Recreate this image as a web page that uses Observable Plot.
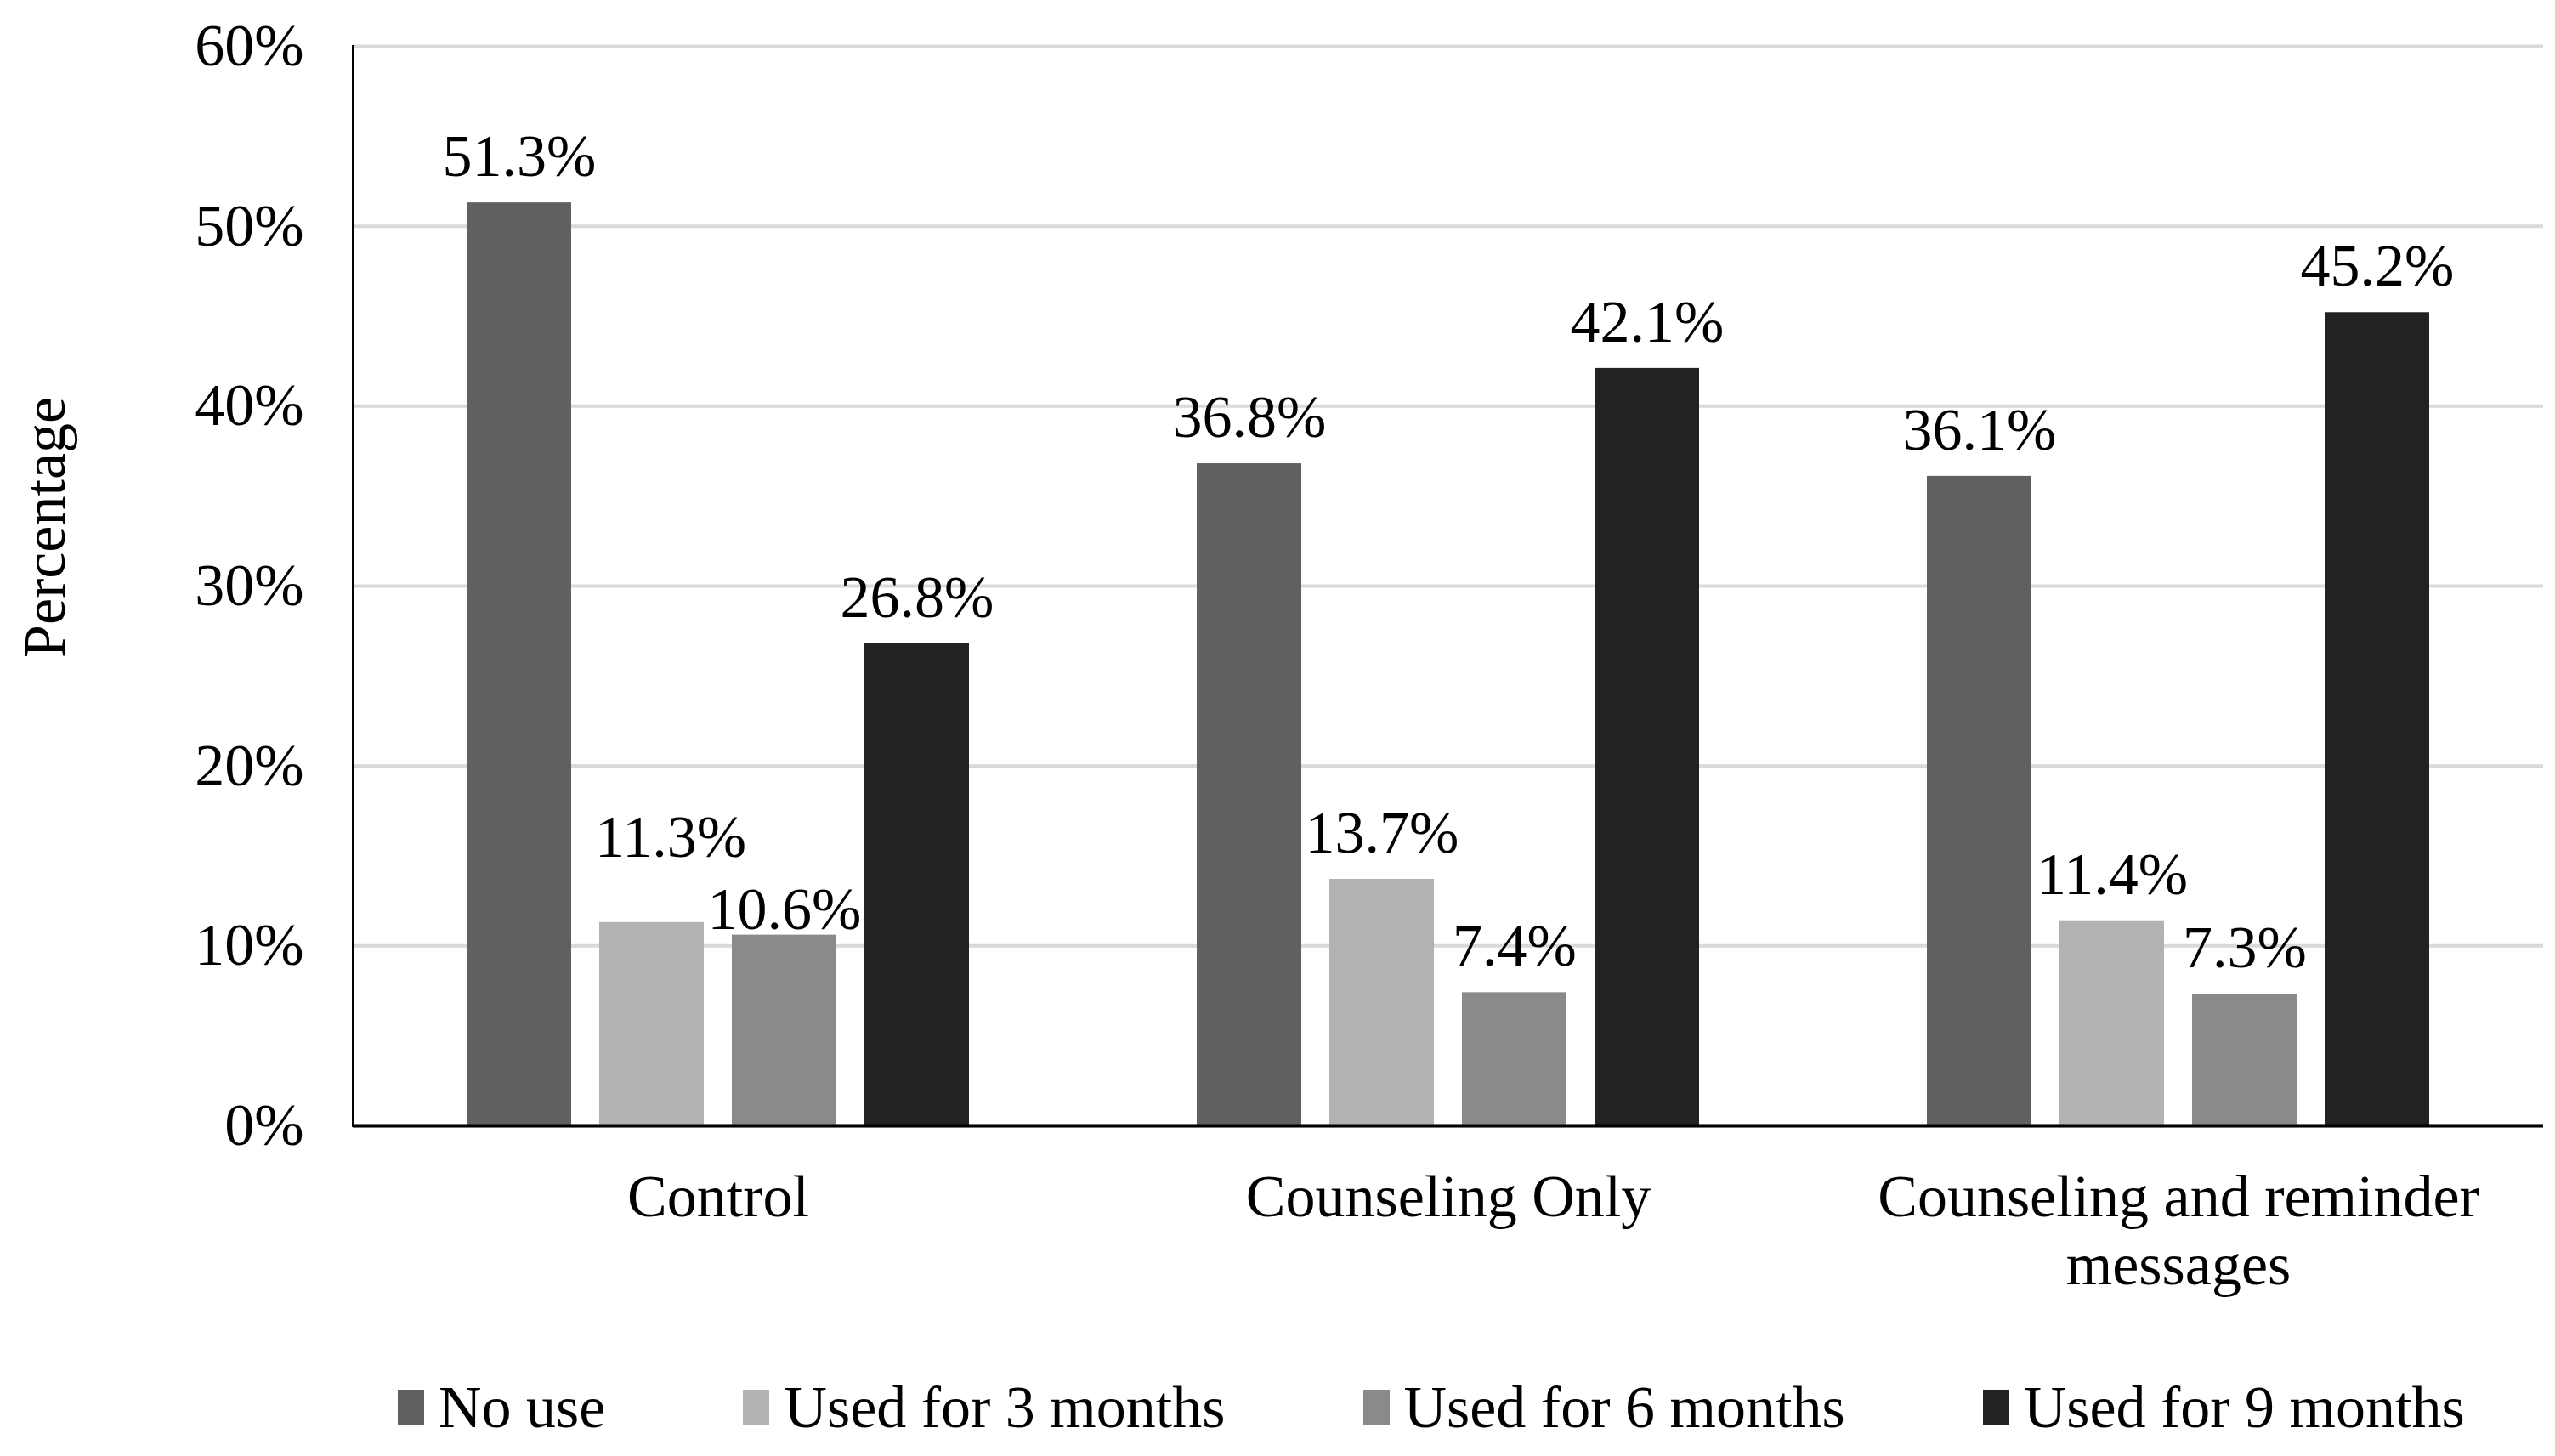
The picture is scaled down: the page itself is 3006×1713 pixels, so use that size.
<!DOCTYPE html>
<html><head><meta charset="utf-8">
<script src="https://cdn.jsdelivr.net/npm/d3@7"></script>
<script src="https://cdn.jsdelivr.net/npm/@observablehq/plot@0.6"></script>
<style>
html,body{margin:0;padding:0;background:#fff;}
#chart{width:3006px;}
.lg-swatches{font-family:"Liberation Serif","Times New Roman",serif !important;font-size:70px !important;color:#000;margin-left:468px !important;margin-top:56px !important;flex-wrap:nowrap !important;}
.lg-swatch{margin-right:162px !important;}
.lg-swatch:last-child{margin-right:0 !important;}
.lg-swatch > svg{margin-right:17px !important;}
</style></head><body><div id="chart"></div>
<script>
const groups = ["Control", "Counseling Only", "Counseling and reminder messages"];
const groupLabels = ["Control", "Counseling Only", "Counseling and reminder\nmessages"];
const series = ["No use", "Used for 3 months", "Used for 6 months", "Used for 9 months"];
const noUse = [51.3, 36.8, 36.1];
const used3 = [11.3, 13.7, 11.4];
const used6 = [10.6, 7.4, 7.3];
const used9 = [26.8, 42.1, 45.2];
const yTicks = [0, 10, 20, 30, 40, 50, 60];
const yTickLabels = ["0%", "10%", "20%", "30%", "40%", "50%", "60%"];
const palette = ["#606060", "#b2b2b2", "#8a8a8a", "#222222"];

const seriesValues = [noUse, used3, used6, used9];
const data = groups.flatMap((g, i) => series.map((s, j) => ({
  group: g, series: s, value: seriesValues[j][i],
  next: seriesValues[j + 1] ? seriesValues[j + 1][i] : null,
  prev: seriesValues[j - 1] ? seriesValues[j - 1][i] : null
})));
// when two neighbouring bars have nearly the same height, the left label is lifted and the right one lowered
const close = (a, b) => b !== null && Math.abs(a - b) < 2;
const lifted = d => close(d.value, d.next);
const lowered = d => close(d.value, d.prev);
const normal = d => !lifted(d) && !lowered(d);

const font = '"Liberation Serif","Times New Roman",serif';
const label = d => d.value.toFixed(1) + "%";
const textOpts = {fx: "group", x: "series", y: "value", text: label, lineAnchor: "middle", fontSize: 70, fill: "#000"};
const plot = Plot.plot({
  width: 3006, height: 1560,
  marginTop: 54, marginBottom: 236, marginLeft: 414, marginRight: 13,
  style: {fontFamily: font, fontSize: "70px", color: "#000", background: "#fff"},
  fx: {domain: groups, padding: 0, label: null},
  x: {domain: series, paddingInner: 0.21, paddingOuter: 0.858, axis: null},
  y: {domain: [0, 60], label: null},
  color: {domain: series, range: palette},
  marks: [
    Plot.gridY(yTicks, {stroke: "#d9d9d9", strokeOpacity: 1, strokeWidth: 4}),
    Plot.barY(data, {fx: "group", x: "series", y: "value", fill: "series"}),
    Plot.text(data.filter(normal), {...textOpts, dy: -54}),
    Plot.text(data.filter(lifted), {...textOpts, dy: -100, dx: 22}),
    Plot.text(data.filter(lowered), {...textOpts, dy: -30}),
    Plot.ruleY([0], {stroke: "#000", strokeWidth: 4}),
    Plot.frame({anchor: "left", facetAnchor: "left", stroke: "#000", strokeWidth: 3}),
    Plot.axisY({ticks: yTicks, tickFormat: d => yTickLabels[yTicks.indexOf(d)], tickSize: 0, tickPadding: 58, fontSize: 70, label: null}),
    Plot.axisFx({anchor: "bottom", tickFormat: d => groupLabels[groups.indexOf(d)], tickSize: 0, tickPadding: 49, fontSize: 70, lineHeight: 1.15, label: null}),
    Plot.text(["Percentage"], {frameAnchor: "left", facetAnchor: "left", textAnchor: "middle", rotate: -90, dx: -362, dy: -69, fontSize: 70, fill: "#000"})
  ]
});
document.getElementById("chart").appendChild(plot);
const legend = Plot.legend({color: {domain: series, range: palette}, swatchWidth: 31, swatchHeight: 42, className: "lg"});
document.getElementById("chart").appendChild(legend);
</script></body></html>
